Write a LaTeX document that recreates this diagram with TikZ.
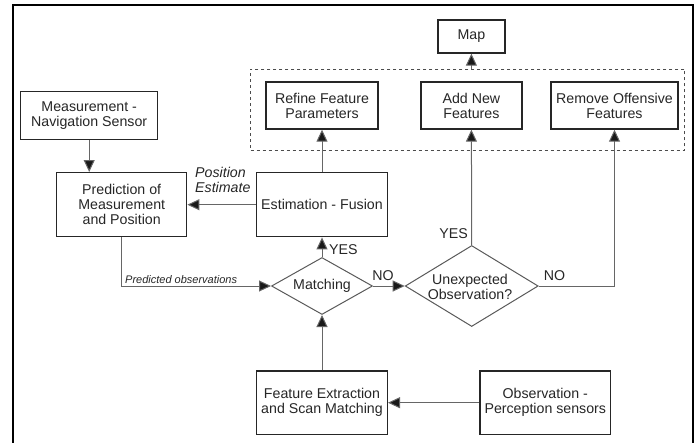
\documentclass[tikz,border=0pt]{standalone}
\usepackage{fontspec}
\setmainfont{Liberation Sans}
\usetikzlibrary{shapes.geometric,arrows.meta}
\begin{document}
\begin{tikzpicture}[x=1pt,y=-1pt,
  box/.style={draw=black!85, line width=1.4pt, fill=white, align=center, inner sep=0pt,
    text=black!85, font=\fontsize{14.2}{15}\selectfont},
  dia/.style={draw=black!65, line width=1pt, shape=diamond, inner sep=0pt},
  conn/.style={draw=black!60, line width=1pt, -{Triangle[length=12pt,width=11pt,fill=black!90]}},
  lbl/.style={inner sep=0pt, text=black!85, align=center, font=\fontsize{14.2}{15}\selectfont},
  ilbl/.style={inner sep=0pt, text=black!85, align=left, font=\fontsize{14.2}{15.5}\selectfont\itshape},
  slbl/.style={inner sep=0pt, text=black!85, font=\fontsize{11}{12}\selectfont\itshape}]
\useasboundingbox (0,0) rectangle (700,442);
% outer frame (cut at the bottom)
\draw[line width=2.6pt, black] (13,445) -- (13,5) -- (693,5) -- (693,445);
% dashed group
\node[draw=black!70, dashed, line width=1pt, minimum width=434.3pt, minimum height=81pt, inner sep=0pt] (group) at (467.8,109.5) {};
% boxes
\node[box, minimum width=67pt, minimum height=33pt] (map) at (471.4,36.5) {Map};
\node[box, minimum width=112pt, minimum height=47pt] (refine) at (322,105.5) {Refine Feature\\Parameters};
\node[box, minimum width=101pt, minimum height=47pt] (add) at (471.4,105.5) {Add New\\Features};
\node[box, minimum width=127pt, minimum height=47pt] (remove) at (614.5,105.5) {Remove Offensive\\Features};
\node[box, minimum width=137pt, minimum height=47.6pt] (meas) at (89.2,115.5) {Measurement -\\Navigation Sensor};
\node[box, minimum width=130pt, minimum height=64pt] (pred) at (121.7,204.7) {Prediction of\\Measurement\\and Position};
\node[box, minimum width=130.6pt, minimum height=64pt] (est) at (322,204.7) {Estimation - Fusion};
\node[dia, minimum width=101pt, minimum height=57pt] (match) at (322,286) {};
\node[lbl] (matchtxt) at (match.center) {Matching};
\node[dia, minimum width=133pt, minimum height=81pt] (unexp) at (471.7,286) {};
\node[lbl] (unexptxt) at (470,286.5) {Unexpected\\Observation?};
\node[box, minimum width=130.6pt, minimum height=63.3pt] (feat) at (322,402.7) {Feature Extraction\\and Scan Matching};
\node[box, minimum width=130.7pt, minimum height=63.3pt] (obs) at (545.3,402.7) {Observation -\\Perception sensors};
% connectors
\draw[conn] (map.south |- group.north) -- (map.south);
\draw[conn] (est.north) -- (refine.south);
\draw[conn] (unexp.north) -- (add.south);
\draw[conn] (unexp.east) -| (remove.south);
\draw[conn] (meas.south) -- (meas.south |- pred.north);
\draw[conn] (est.west) -- (pred.east);
\draw[conn] (pred.south) |- (match.west);
\draw[conn] (match.north) -- (est.south);
\draw[conn] (match.east) -- (unexp.west);
\draw[conn] (feat.north) -- (match.south);
\draw[conn] (obs.west) -- (feat.east);
% labels
\node[lbl, anchor=west] (yes1) at (329,250) {YES};
\node[lbl, anchor=east] (yes2) at (468,234) {YES};
\node[lbl] (no1) at (383,276) {NO};
\node[lbl] (no2) at (554.5,276) {NO};
\node[ilbl, anchor=north west] (posest) at (195,167) {Position\\Estimate};
\node[slbl, anchor=west] (predobs) at (125,279.5) {Predicted observations};
\end{tikzpicture}
\end{document}
